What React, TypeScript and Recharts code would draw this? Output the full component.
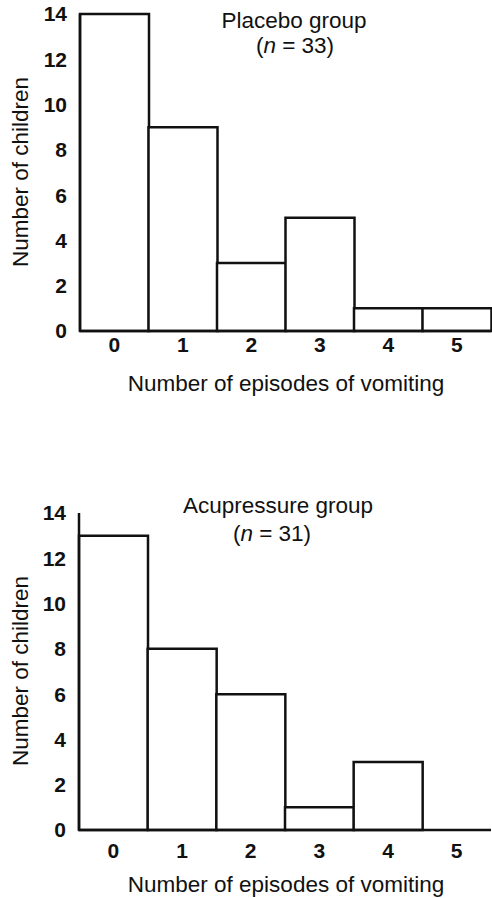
import { BarChart, Bar, XAxis, YAxis, Customized } from "recharts";

const episodes = ["0", "1", "2", "3", "4", "5"];
const placeboCounts = [14, 9, 3, 5, 1, 1];
const acupressureCounts = [13, 8, 6, 1, 3, 0];
const yTicks = [0, 2, 4, 6, 8, 10, 12, 14];

const FONT = '"Liberation Sans", Arial, Helvetica, sans-serif';
const INK = "#111";
const W = 492;
const H = 449;
const TEXT_SIZE = 22.5;
const TICK_SIZE = 21;

interface PanelProps {
  counts: number[];
  title: string;
  n: number;
  plotTop: number;
  plotBottom: number;
  plotLeft: number;
  tickGap: number;
  titleX: number;
  titleY: number;
  nX: number;
  nY: number;
  xTitleY: number;
  yTitleY: number;
}

function Panel(p: PanelProps) {
  const data = episodes.map((e, i) => ({ episodes: e, count: p.counts[i] }));
  const yAxisW = 60;
  const xAxisH = 60;
  const margin = {
    top: p.plotTop,
    right: 1,
    left: p.plotLeft - yAxisW,
    bottom: H - p.plotBottom - xAxisH,
  };

  const extras = () => (
    <g fontFamily={FONT} fill={INK} fontSize={TEXT_SIZE}>
      <text x={p.titleX} y={p.titleY} textAnchor="middle" dominantBaseline="central">
        {p.title}
      </text>
      <text x={p.nX} y={p.nY} textAnchor="middle" dominantBaseline="central">
        (<tspan fontStyle="italic">n</tspan> = {p.n})
      </text>
      <text x={286} y={p.xTitleY} textAnchor="middle" dominantBaseline="central">
        Number of episodes of vomiting
      </text>
      <text
        x={20}
        y={p.yTitleY}
        textAnchor="middle"
        dominantBaseline="central"
        transform={`rotate(-90 20 ${p.yTitleY})`}
      >
        Number of children
      </text>
    </g>
  );

  return (
    <BarChart width={W} height={H} data={data} margin={margin} barCategoryGap={0}>
      <XAxis
        dataKey="episodes"
        height={xAxisH}
        tickLine={false}
        tickSize={0}
        tickMargin={p.tickGap}
        axisLine={{ stroke: INK, strokeWidth: 2.5 }}
        tick={{ fill: INK, fontSize: TICK_SIZE, fontWeight: "bold", fontFamily: FONT }}
      />
      <YAxis
        width={yAxisW}
        domain={[0, 14]}
        ticks={yTicks}
        interval={0}
        tickLine={false}
        tickSize={0}
        tickMargin={13}
        axisLine={{ stroke: INK, strokeWidth: 2.5 }}
        tick={{ fill: INK, fontSize: TICK_SIZE, fontWeight: "bold", fontFamily: FONT }}
      />
      <Bar dataKey="count" fill="#fff" stroke={INK} strokeWidth={2.5} isAnimationActive={false} />
      <Customized component={extras} />
    </BarChart>
  );
}

export default function App() {
  return (
    <div style={{ position: "absolute", left: 0, top: 0, width: W, height: 898, background: "#fff" }}>
      <div style={{ position: "absolute", left: 0, top: 0 }}>
        <Panel
          counts={placeboCounts}
          title="Placebo group"
          n={33}
          plotTop={14}
          plotBottom={331}
          plotLeft={80}
          tickGap={6}
          titleX={294}
          titleY={20}
          nX={295}
          nY={45}
          xTitleY={383}
          yTitleY={172}
        />
      </div>
      <div style={{ position: "absolute", left: 0, top: H }}>
        <Panel
          counts={acupressureCounts}
          title="Acupressure group"
          n={31}
          plotTop={64}
          plotBottom={381}
          plotLeft={79}
          tickGap={13}
          titleX={278}
          titleY={56}
          nX={272}
          nY={84}
          xTitleY={435}
          yTitleY={222}
        />
      </div>
    </div>
  );
}
